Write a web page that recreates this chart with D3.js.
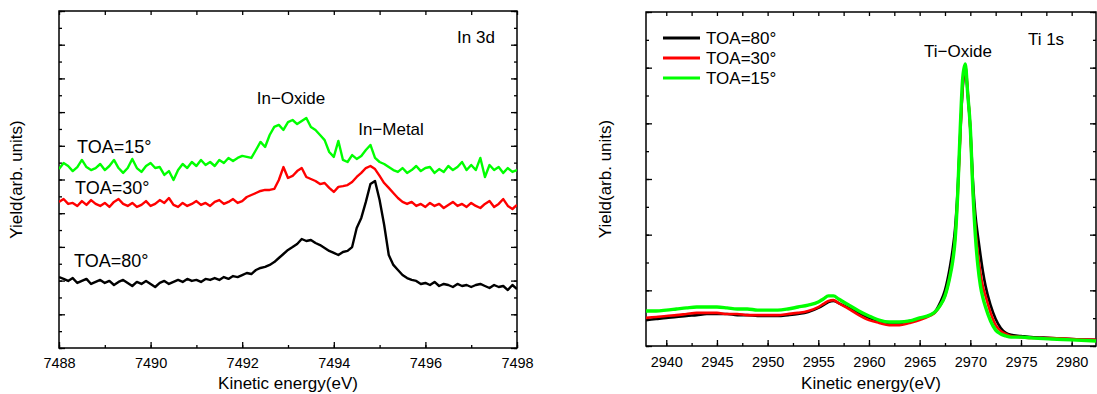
<!DOCTYPE html>
<html>
<head>
<meta charset="utf-8">
<script src="https://cdn.jsdelivr.net/npm/d3@7"></script>
<style>
  body { margin: 0; background: #fff; }
  svg { display: block; font-family: "Liberation Sans", Arial, sans-serif; }
</style>
</head>
<body>
<svg id="chart" width="1097" height="394"></svg>
<script>
// ---- In 3d (left panel) : scan grid 7488.0 .. 7498.0, step 0.1 eV
const in3dEnergy = d3.range(101).map(i => 7488 + i / 10);

const in3dToa15 = [10.62,10.98,10.80,10.50,10.74,11.16,10.74,10.56,10.68,10.92,
  10.56,10.80,11.16,10.68,10.39,10.68,11.22,10.68,10.45,10.80,
  10.98,10.68,10.74,10.27,10.50,9.97,10.56,10.92,10.68,11.04,
  10.80,11.16,10.86,11.04,10.80,11.16,10.98,11.28,11.10,11.28,
  11.40,11.34,11.28,11.75,12.23,11.93,12.64,13.12,13.24,12.94,
  13.41,13.53,13.29,13.47,13.65,13.12,12.94,12.64,12.34,11.63,
  11.34,12.29,11.16,11.04,11.45,11.22,11.40,11.75,12.05,11.28,
  11.04,10.92,10.74,10.56,10.45,10.68,10.39,10.56,10.80,10.50,
  10.68,10.74,10.39,10.62,10.45,10.80,10.56,10.74,11.04,10.56,
  10.86,10.56,11.28,10.15,10.86,10.56,10.74,10.39,10.68,10.45,
  10.56];

const in3dToa30 = [8.67,8.84,8.55,8.61,8.43,8.72,8.49,8.78,8.55,8.43,
  8.61,8.37,8.67,8.84,8.55,8.43,8.61,8.37,8.49,8.72,
  8.43,8.55,8.78,8.61,8.90,8.49,8.37,8.61,8.43,8.55,
  8.72,8.49,8.61,8.43,8.67,8.78,8.55,8.67,8.84,8.61,
  8.72,8.96,9.08,9.20,9.32,9.38,9.38,9.44,9.97,10.74,
  10.09,10.21,10.50,10.68,10.15,10.03,9.91,9.73,9.79,9.50,
  9.26,9.56,9.61,9.67,9.85,10.15,10.39,10.68,10.80,10.62,
  10.21,9.79,9.50,9.20,8.90,8.67,8.55,8.67,8.43,8.55,
  8.37,8.61,8.43,8.55,8.31,8.49,8.67,8.43,8.55,8.37,
  8.61,8.43,8.31,8.55,8.72,8.37,8.55,8.84,8.43,8.25,
  8.49];

const in3dToa80 = [4.21,4.10,3.98,4.15,3.86,3.98,4.10,3.80,3.92,4.04,
  3.86,3.98,3.74,3.92,4.04,3.86,3.68,3.92,3.80,3.98,
  3.80,3.62,3.86,3.98,3.80,3.92,4.04,3.92,4.10,3.98,
  4.04,3.92,4.10,4.04,4.15,4.04,4.21,4.10,4.27,4.21,
  4.33,4.45,4.39,4.63,4.75,4.81,4.93,5.10,5.34,5.58,
  5.82,5.99,6.17,6.47,6.35,6.41,6.23,6.11,5.94,5.76,
  5.64,5.52,5.70,5.76,5.99,7.12,7.72,8.67,9.73,9.91,
  8.78,7.30,5.52,4.93,4.63,4.33,4.15,4.04,3.98,3.80,
  3.86,3.74,3.92,3.68,3.80,3.74,3.62,3.80,3.68,3.74,
  3.62,3.74,3.80,3.68,3.56,3.74,3.62,3.68,3.44,3.74,
  3.50];

// ---- Ti 1s (right panel)
const ti1sEnergy = [2938,2939,2940,2941,2942,2943,2944,2945,2946,2947,
  2948,2949,2950,2951,2952,2953,2954,2955,2955.5,2956,
  2956.5,2957,2958,2959,2960,2961,2962,2963,2964,2965,
  2966,2966.5,2967,2967.5,2968,2968.25,2968.5,2968.75,2969,2969.25,
  2969.5,2969.75,2970,2970.25,2970.5,2970.75,2971,2971.25,2971.5,2972,
  2972.5,2973,2973.5,2974,2975,2976,2978,2980,2982.4];

const ti1sToa80 = [0.93,0.97,1.01,1.04,1.08,1.11,1.15,1.15,1.15,1.11,
  1.11,1.08,1.08,1.08,1.11,1.15,1.22,1.37,1.47,1.58,
  1.62,1.54,1.37,1.19,1.01,0.90,0.83,0.83,0.90,0.97,
  1.11,1.22,1.54,2.01,2.87,3.45,4.24,5.61,7.58,9.27,
  9.99,9.02,7.83,5.96,4.71,3.95,3.27,2.66,2.16,1.47,
  0.97,0.65,0.47,0.40,0.36,0.32,0.29,0.25,0.22];

const ti1sToa30 = [1.01,1.04,1.08,1.11,1.15,1.19,1.19,1.19,1.15,1.15,
  1.11,1.11,1.11,1.11,1.15,1.19,1.26,1.40,1.51,1.62,
  1.65,1.54,1.33,1.11,0.93,0.83,0.75,0.75,0.83,0.93,
  1.08,1.19,1.44,1.80,2.55,3.09,3.88,5.35,7.47,9.38,
  10.06,9.13,7.76,5.61,4.24,3.31,2.62,2.12,1.80,1.19,
  0.75,0.54,0.43,0.36,0.32,0.29,0.29,0.25,0.22];

const ti1sToa15 = [1.26,1.26,1.29,1.33,1.37,1.40,1.40,1.40,1.37,1.33,
  1.33,1.29,1.29,1.29,1.33,1.40,1.47,1.58,1.69,1.80,
  1.80,1.69,1.47,1.26,1.08,0.93,0.86,0.86,0.90,1.01,
  1.11,1.22,1.44,1.80,2.52,3.02,3.81,5.43,7.76,9.63,
  10.13,9.02,7.83,5.61,3.95,2.87,2.16,1.72,1.40,0.90,
  0.57,0.43,0.36,0.32,0.32,0.29,0.25,0.22,0.18];

const toaNames = ["TOA=80°", "TOA=30°", "TOA=15°"];
const toaColors = ["#000000", "#ff0000", "#00ff00"];

// tick values
const in3dMajor = [7488, 7490, 7492, 7494, 7496, 7498];
const in3dMinor = [7488, 7489, 7490, 7491, 7492, 7493, 7494, 7495, 7496, 7497, 7498];
const ti1sMajor = [2940, 2945, 2950, 2955, 2960, 2965, 2970, 2975, 2980];
const ti1sMinor = [2940, 2942.5, 2945, 2947.5, 2950, 2952.5, 2955, 2957.5, 2960,
  2962.5, 2965, 2967.5, 2970, 2972.5, 2975, 2977.5, 2980];

const svg = d3.select("#chart");

function drawPanel(p) {
  const x = d3.scaleLinear().domain(p.xDomain).range([p.left, p.right]);
  const y = d3.scaleLinear().domain(p.yDomain).range([p.bottom, p.top]);
  const g = svg.append("g");

  g.append("clipPath").attr("id", p.id + "-clip")
    .append("rect")
    .attr("x", p.left).attr("y", p.top)
    .attr("width", p.right - p.left).attr("height", p.bottom - p.top);

  const yMinor = d3.range(p.yDomain[0], p.yDomain[1] + 1, 1);
  const yMajor = yMinor.filter(v => v % 2 === 0);

  const styleAxis = a => {
    a.select(".domain").remove();
    a.selectAll("line").attr("stroke", "#000").attr("stroke-width", 1.3);
    a.attr("font-family", null).attr("font-size", null);
  };

  g.append("g").attr("transform", `translate(0,${p.bottom})`)
    .call(d3.axisBottom(x).tickValues(p.xMinor).tickSize(-3).tickFormat(""))
    .call(styleAxis);
  g.append("g").attr("transform", `translate(0,${p.bottom})`)
    .call(d3.axisBottom(x).tickValues(p.xMajor).tickSize(-6).tickPadding(p.labelPad).tickFormat(d3.format("d")))
    .call(styleAxis)
    .call(a => a.selectAll("text").attr("fill", "#000").style("font-size", "14.5px"));
  g.append("g").attr("transform", `translate(0,${p.top})`)
    .call(d3.axisTop(x).tickValues(p.xMinor).tickSize(-4).tickFormat(""))
    .call(styleAxis);
  [[yMinor, -3], [yMajor, -6]].forEach(([vals, size]) => {
    g.append("g").attr("transform", `translate(${p.left},0)`)
      .call(d3.axisLeft(y).tickValues(vals).tickSize(size).tickFormat(""))
      .call(styleAxis);
    g.append("g").attr("transform", `translate(${p.right},0)`)
      .call(d3.axisRight(y).tickValues(vals).tickSize(size).tickFormat(""))
      .call(styleAxis);
  });

  g.append("rect")
    .attr("x", p.left).attr("y", p.top)
    .attr("width", p.right - p.left).attr("height", p.bottom - p.top)
    .attr("fill", "none").attr("stroke", "#000").attr("stroke-width", 1.5);

  const line = d3.line()
    .x(d => x(d[0])).y(d => y(d[1]))
    .curve(p.curve || d3.curveLinear);

  const plot = g.append("g").attr("clip-path", `url(#${p.id}-clip)`);
  p.series.forEach(s => {
    plot.append("path")
      .datum(p.energy.map((e, i) => [e, s.values[i]]))
      .attr("fill", "none")
      .attr("stroke", s.color)
      .attr("stroke-width", s.width)
      .attr("stroke-linejoin", "round")
      .attr("d", line);
  });

  // axis titles
  g.append("text")
    .attr("x", (p.left + p.right) / 2).attr("y", 389)
    .attr("text-anchor", "middle").style("font-size", "17px")
    .text("Kinetic energy(eV)");
  g.append("text")
    .attr("transform", `translate(${p.yTitleX},${(p.top + p.bottom) / 2}) rotate(-90)`)
    .attr("text-anchor", "middle").style("font-size", "17px")
    .text("Yield(arb. units)");

  return g;
}

// left panel
const left = drawPanel({
  id: "in3d", left: 59, right: 517, top: 11, bottom: 348,
  xDomain: [7488, 7498], yDomain: [0, 20],
  xMajor: in3dMajor, xMinor: in3dMinor, labelPad: 10, yTitleX: 22,
  energy: in3dEnergy,
  series: [
    { values: in3dToa15, color: toaColors[2], width: 2.4 },
    { values: in3dToa30, color: toaColors[1], width: 2.4 },
    { values: in3dToa80, color: toaColors[0], width: 2.4 }
  ]
});

const note = (g, x, y, txt, anchor, size) =>
  g.append("text").attr("x", x).attr("y", y)
    .attr("text-anchor", anchor || "middle")
    .style("font-size", (size || 17) + "px").text(txt);

note(left, 476, 43, "In 3d");
note(left, 291, 104, "In\u2212Oxide");
note(left, 391, 135, "In\u2212Metal");
note(left, 77, 153, toaNames[2], "start", 18);
note(left, 75, 194, toaNames[1], "start", 18);
note(left, 74, 267, toaNames[0], "start", 18);

// right panel
const right = drawPanel({
  id: "ti1s", left: 646, right: 1096, top: 12, bottom: 346,
  xDomain: [2938, 2982.4], yDomain: [0, 12],
  xMajor: ti1sMajor, xMinor: ti1sMinor, labelPad: 11, yTitleX: 611,
  energy: ti1sEnergy, curve: d3.curveMonotoneX,
  series: [
    { values: ti1sToa80, color: toaColors[0], width: 2.6 },
    { values: ti1sToa30, color: toaColors[1], width: 2.6 },
    { values: ti1sToa15, color: toaColors[2], width: 3.4 }
  ]
});

note(right, 1046, 45, "Ti 1s");
note(right, 958, 57, "Ti\u2212Oxide");

const legend = right.append("g");
toaNames.forEach((name, i) => {
  const yy = 38 + i * 20;
  legend.append("line")
    .attr("x1", 663).attr("x2", 700).attr("y1", yy).attr("y2", yy)
    .attr("stroke", toaColors[i]).attr("stroke-width", 3);
  legend.append("text")
    .attr("x", 706).attr("y", yy + 6)
    .style("font-size", "17px").text(name);
});
</script>
</body>
</html>
